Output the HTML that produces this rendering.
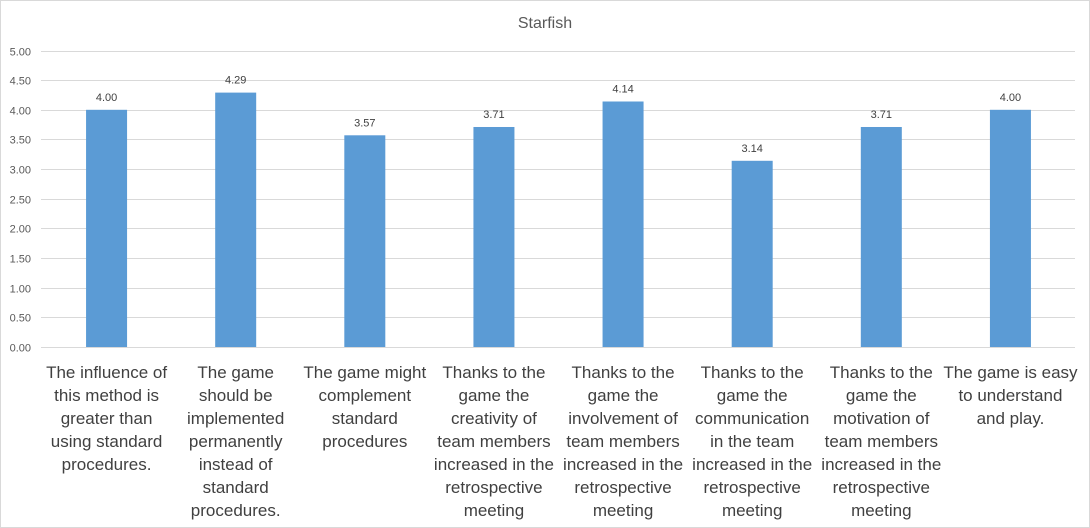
<!DOCTYPE html>
<html><head><meta charset="utf-8"><style>
body{margin:0;background:#fff}
svg{display:block}
text{font-family:"Liberation Sans",Arial,sans-serif}
</style></head><body>
<svg id="chart" width="1090" height="528">
<rect x="0.5" y="0.5" width="1089" height="527" fill="#fff" stroke="#d9d9d9"/>
<text x="545" y="28" text-anchor="middle" font-size="16" fill="#595959">Starfish</text>
<g id="grid"></g><g id="bars"></g><g id="labels"></g>
</svg>
<script>
const categories=[
["The influence of","this method is","greater than","using standard","procedures."],
["The game","should be","implemented","permanently","instead of","standard","procedures."],
["The game might","complement","standard","procedures"],
["Thanks to the","game the","creativity of","team members","increased in the","retrospective","meeting"],
["Thanks to the","game the","involvement of","team members","increased in the","retrospective","meeting"],
["Thanks to the","game the","communication","in the team","increased in the","retrospective","meeting"],
["Thanks to the","game the","motivation of","team members","increased in the","retrospective","meeting"],
["The game is easy","to understand","and play."]];
const values=[4.00,4.29,3.57,3.71,4.14,3.14,3.71,4.00];
const ticks=[0,0.5,1,1.5,2,2.5,3,3.5,4,4.5,5];
const NS="http://www.w3.org/2000/svg";
const x0=42,x1=1075,y0=347,y5=50.5;
const yScale=v=>y0-(v/5)*(y0-y5);
const bw=(x1-x0)/values.length;
const xCenter=i=>x0+bw*(i+0.5);
function mk(tag,attrs,parent){const e=document.createElementNS(NS,tag);for(const k in attrs)e.setAttribute(k,attrs[k]);parent.appendChild(e);return e;}
const grid=document.getElementById('grid'),bars=document.getElementById('bars'),labels=document.getElementById('labels');
ticks.forEach(t=>{
 const y=Math.round(yScale(t))+0.5;
 const l=mk('line',{x1:41,x2:x1,y1:y,y2:y,stroke:'#d9d9d9','stroke-width':1},grid);
 
 
 const tx=mk('text',{x:31,y:y+4,'text-anchor':'end','font-size':11,fill:'#595959'},grid);
 tx.textContent=t.toFixed(2);
 
 
});
values.forEach((v,i)=>{
 const cx=xCenter(i),w=41;
 const r=mk('rect',{x:cx-w/2,y:yScale(v),width:w,height:y0-yScale(v),fill:'#5b9bd5'},bars);
 
 
 const t=mk('text',{x:cx,y:yScale(v)-9,'text-anchor':'middle','font-size':11,fill:'#404040'},labels);
 t.textContent=v.toFixed(2);
 
 
 const lab=mk('text',{x:cx,y:378,'text-anchor':'middle','font-size':17,fill:'#404040'},labels);
 
 
 categories[i].forEach((line,j)=>{const ts=mk('tspan',{x:cx,dy:j?23:0},lab);ts.textContent=line;});
});
</script>
</body></html>
